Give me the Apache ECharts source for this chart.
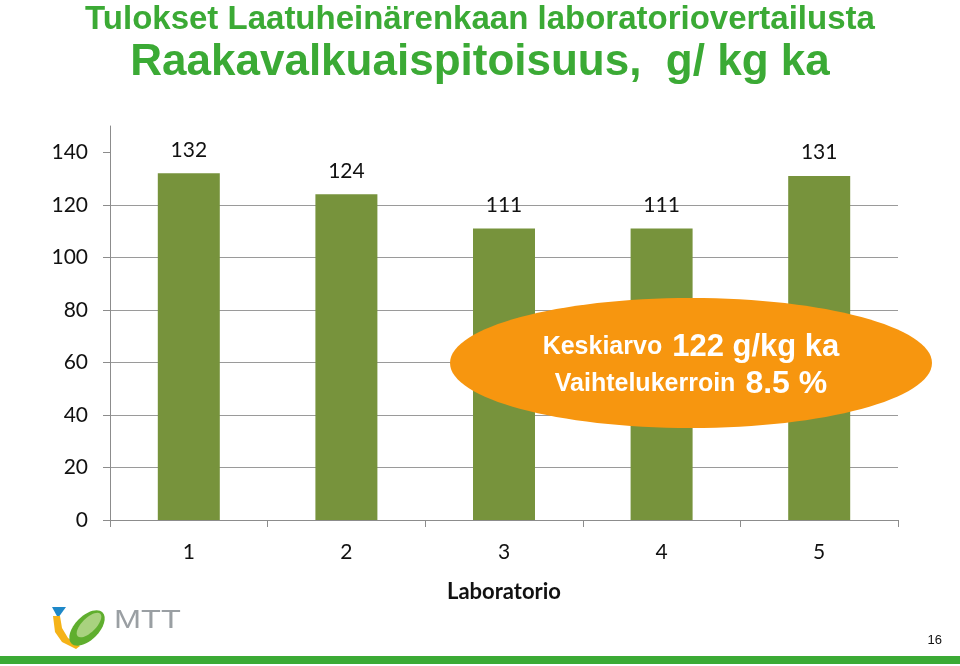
<!DOCTYPE html>
<html>
<head>
<meta charset="utf-8">
<script src="https://cdn.jsdelivr.net/npm/echarts@6/dist/echarts.min.js"></script>
<style>html,body{margin:0;padding:0;background:#fff}#c{width:960px;height:666px}</style>
</head>
<body>
<div id="c"></div>
<script>
const categories = ['1', '2', '3', '4', '5'];
const values = [132, 124, 111, 111, 131];
const yTicks = [0, 20, 40, 60, 80, 100, 120, 140];
const titleLine1 = 'Tulokset Laatuheinärenkaan laboratoriovertailusta';
const titleLine2 = 'Raakavalkuaispitoisuus,  g/ kg ka';
const meanText = '122 g/kg ka';
const cvText = '8.5 %';
const pageNumber = '16';

const chart = echarts.init(document.getElementById('c'), null, {renderer: 'canvas'});
const GREEN = '#3BAA35';
const BAR = '#77933C';
const AXIS = '#8c8c8c';
const FONT = 'Lato, "Open Sans", sans-serif';
const SANS = '"Liberation Sans", Arial, sans-serif';

chart.setOption({
  animation: false,
  backgroundColor: '#fff',
  title: [
    {text: titleLine1, left: 'center', top: -2,
     textStyle: {fontFamily: SANS, fontWeight: 'bold', fontSize: 33, color: GREEN}},
    {text: titleLine2, left: 'center', top: 36,
     textStyle: {fontFamily: SANS, fontWeight: 'bold', fontSize: 44, color: GREEN}}
  ],
  grid: {left: 110, right: 62, top: 126, bottom: 146, containLabel: false},
  xAxis: {
    type: 'category', data: categories,
    name: 'Laboratorio', nameLocation: 'middle', nameGap: 61,
    nameTextStyle: {fontFamily: FONT, fontWeight: 'bold', fontSize: 22, color: '#111'},
    axisLine: {lineStyle: {color: AXIS, width: 1}},
    axisTick: {show: true, length: 7, alignWithLabel: false, lineStyle: {color: AXIS}},
    axisLabel: {fontFamily: FONT, fontSize: 21, color: '#111', margin: 22}
  },
  yAxis: {
    type: 'value', min: 0, max: 150, interval: 20,
    axisLine: {show: true, lineStyle: {color: AXIS, width: 1}},
    axisTick: {show: true, length: 7, lineStyle: {color: AXIS}, customValues: yTicks},
    axisLabel: {fontFamily: FONT, fontSize: 21, color: '#111', margin: 22, customValues: yTicks},
    splitLine: {show: true, showMaxLine: false, lineStyle: {color: '#9a9a9a', width: 1}}
  },
  series: [{
    type: 'bar', data: values, barWidth: 62,
    itemStyle: {color: BAR},
    label: {show: true, position: 'top', distance: 13, fontFamily: FONT, fontSize: 21, color: '#111'}
  }],
  graphic: [
    {type: 'ellipse', shape: {cx: 691, cy: 363, rx: 241, ry: 65}, style: {fill: '#F7960F'}, z: 100},
    {type: 'text', x: 691, y: 347, z: 101, style: {
      text: '{a|Keskiarvo}   {b|' + meanText + '}', align: 'center', verticalAlign: 'middle',
      rich: {a: {fontFamily: SANS, fontWeight: 'bold', fontSize: 25, fill: '#fff'},
             b: {fontFamily: SANS, fontWeight: 'bold', fontSize: 31, fill: '#fff'}}
    }},
    {type: 'text', x: 691, y: 384, z: 101, style: {
      text: '{a|Vaihtelukerroin}   {b|' + cvText + '}', align: 'center', verticalAlign: 'middle',
      rich: {a: {fontFamily: SANS, fontWeight: 'bold', fontSize: 25, fill: '#fff'},
             b: {fontFamily: SANS, fontWeight: 'bold', fontSize: 32, fill: '#fff'}}
    }},
    {type: 'rect', shape: {x: 0, y: 656, width: 960, height: 8}, style: {fill: GREEN}},
    {type: 'text', x: 942, y: 640, style: {text: pageNumber, align: 'right', verticalAlign: 'middle',
      font: '13px ' + SANS, fill: '#111'}},
    {type: 'polygon', shape: {points: [[52, 607], [66, 607], [58, 618]]}, style: {fill: '#1E88C8'}},
    {type: 'polygon', shape: {points: [[53, 616], [60, 616], [62, 628], [68, 638], [80, 646], [76, 649], [62, 642], [55, 632]]}, style: {fill: '#F5B318'}},
    {type: 'ellipse', x: 87, y: 628, rotation: Math.PI / 4, shape: {cx: 0, cy: 0, rx: 22, ry: 12}, style: {fill: '#5FAE2E'}},
    {type: 'ellipse', x: 89, y: 625, rotation: Math.PI / 4, shape: {cx: 0, cy: 0, rx: 16, ry: 7}, style: {fill: '#A9D27F'}},
    {type: 'text', x: 114, y: 621, scaleX: 1.25, style: {text: 'MTT', verticalAlign: 'middle',
      font: '26px ' + SANS, fill: '#9a9fa3'}}
  ]
});
</script>
</body>
</html>
